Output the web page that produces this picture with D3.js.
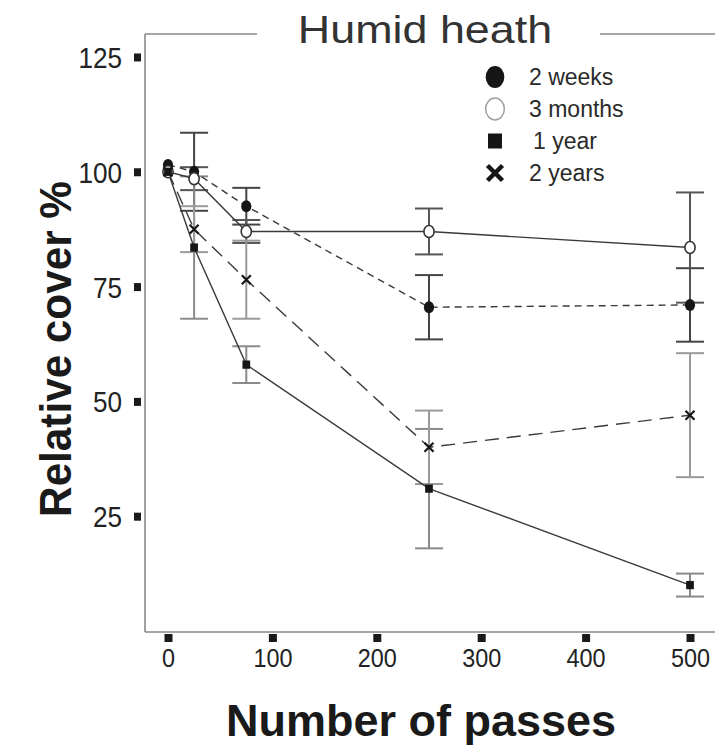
<!DOCTYPE html>
<html><head><meta charset="utf-8">
<script src="https://cdn.jsdelivr.net/npm/d3@7"></script>
<style>body{margin:0;background:#fff}svg{display:block}</style>
</head><body>
<svg id="chart" width="715" height="746"></svg>
<script>
// ---- data ----
const passes = [0, 25, 75, 250, 500];
const seriesNames = ["2 weeks", "3 months", "1 year", "2 years"];
const cover2w = [101.5, 100, 92.5, 70.5, 71];
const err2w   = [0, 8.5, 4, 7, 8];
const cover3m = [100, 98.5, 87, 87, 83.5];
const err3m   = [0, 2.5, 2.5, 5, 12];
const cover1y = [100, 83.5, 58, 31, 10];
const err1y   = [0, 15.5, 4, 13, 2.5];
const cover2y = [100, 87.5, 76.5, 40, 47];
const err2y   = [0, 5, 8.5, 8, 13.5];
const xTicks = [0, 100, 200, 300, 400, 500];
const yTicks = [25, 50, 75, 100, 125];
const chartTitle = "Humid heath";
const xTitle = "Number of passes";
const yTitle = "Relative cover %";

const FONT = "'Liberation Sans', Arial, Helvetica, sans-serif";
const svg = d3.select("#chart");

const x = d3.scaleLinear().domain([0, 500]).range([168, 690]);
const y = d3.scaleLinear().domain([0, 130]).range([631, 34]);

const series = [
  {name: seriesNames[0], vals: cover2w, errs: err2w, marker: "dot",    dash: "7,5",  bar: "#444"},
  {name: seriesNames[1], vals: cover3m, errs: err3m, marker: "circle", dash: null,   bar: "#555"},
  {name: seriesNames[2], vals: cover1y, errs: err1y, marker: "square", dash: null,   bar: "#8a8a8a"},
  {name: seriesNames[3], vals: cover2y, errs: err2y, marker: "cross",  dash: "14,8", bar: "#9a9a9a"}
];

function squeeze(sel, factor) {
  sel.each(function() {
    const w = this.getComputedTextLength();
    d3.select(this).attr("textLength", w * factor).attr("lengthAdjust", "spacingAndGlyphs");
  });
}

// ---- frame ----
const frame = svg.append("g").attr("stroke", "#8a8a8a").attr("stroke-width", 1.6).attr("fill", "none");
frame.append("line").attr("x1", 145).attr("x2", 145).attr("y1", y.range()[1]).attr("y2", 632);
frame.append("line").attr("x1", 145).attr("x2", 715).attr("y1", 632).attr("y2", 632);
frame.append("line").attr("x1", 145).attr("x2", 257).attr("y1", y.range()[1]).attr("y2", y.range()[1]);
frame.append("line").attr("x1", 600).attr("x2", 715).attr("y1", y.range()[1]).attr("y2", y.range()[1]);

// ---- axes ----
const yAxis = svg.append("g").attr("transform", "translate(145,0)")
  .call(d3.axisLeft(y).tickValues(yTicks).tickSize(0).tickPadding(23));
yAxis.select(".domain").remove();
yAxis.selectAll(".tick").append("rect").attr("x", -11).attr("y", -4).attr("width", 7).attr("height", 8).attr("fill", "#1a1a1a");
yAxis.selectAll(".tick text").attr("font-family", FONT).attr("font-size", 29).attr("fill", "#222").attr("dy", "0.36em")
  .call(squeeze, 0.9);

const xAxis = svg.append("g").attr("transform", "translate(0,632)")
  .call(d3.axisBottom(x).tickValues(xTicks).tickSize(0).tickPadding(17));
xAxis.select(".domain").remove();
xAxis.selectAll(".tick").append("rect").attr("x", -4).attr("y", 2).attr("width", 8).attr("height", 8).attr("fill", "#1a1a1a");
xAxis.selectAll(".tick text").attr("font-family", FONT).attr("font-size", 26).attr("fill", "#222").attr("dy", "0.71em")
  .call(squeeze, 0.9);

// ---- titles ----
svg.append("text").attr("x", 425).attr("y", 43).attr("text-anchor", "middle")
  .attr("font-family", FONT).attr("font-size", 39).attr("fill", "#333").text(chartTitle)
  .call(squeeze, 1.15);

svg.append("text").attr("x", 421).attr("y", 736).attr("text-anchor", "middle")
  .attr("font-family", FONT).attr("font-size", 45).attr("font-weight", "bold").attr("fill", "#1a1a1a").text(xTitle)
  .call(squeeze, 1.0);

svg.append("text").attr("transform", "translate(71,349) rotate(-90)").attr("text-anchor", "middle")
  .attr("font-family", FONT).attr("font-size", 44).attr("font-weight", "bold").attr("fill", "#1a1a1a").text(yTitle)
  .call(squeeze, 0.96);

// ---- error bars ----
const capW = 14;
series.forEach(s => {
  const g = svg.append("g").attr("stroke", s.bar).attr("stroke-width", 2).attr("fill", "none");
  passes.forEach((p, i) => {
    const e = s.errs[i];
    if (!e) return;
    const cx = x(p), y1 = y(s.vals[i] + e), y2 = y(s.vals[i] - e);
    g.append("line").attr("x1", cx).attr("x2", cx).attr("y1", y1).attr("y2", y2);
    g.append("line").attr("x1", cx - capW).attr("x2", cx + capW).attr("y1", y1).attr("y2", y1);
    g.append("line").attr("x1", cx - capW).attr("x2", cx + capW).attr("y1", y2).attr("y2", y2);
  });
});

// ---- lines ----
const line = d3.line().x(d => x(d[0])).y(d => y(d[1]));
series.forEach(s => {
  svg.append("path").datum(passes.map((p, i) => [p, s.vals[i]]))
    .attr("d", line).attr("fill", "none").attr("stroke", "#3a3a3a").attr("stroke-width", 1.4)
    .attr("stroke-dasharray", s.dash);
});

// ---- markers ----
function drawMarker(g, type, cx, cy, size, legend) {
  if (type === "dot") {
    g.append("ellipse").attr("cx", cx).attr("cy", cy).attr("rx", size * 0.85).attr("ry", size).attr("fill", "#161616");
  } else if (type === "circle") {
    g.append("ellipse").attr("cx", cx).attr("cy", cy).attr("rx", size * 0.85).attr("ry", size)
      .attr("fill", "#fff").attr("stroke", legend ? "#a0a0a0" : "#333").attr("stroke-width", legend ? 1.5 : 1.6);
  } else if (type === "square") {
    g.append("rect").attr("x", cx - size * 0.7).attr("y", cy - size * 0.75).attr("width", size * 1.4).attr("height", size * 1.5).attr("fill", "#161616");
  } else {
    const a = size * 0.75;
    g.append("path").attr("d", `M${cx - a},${cy - a}L${cx + a},${cy + a}M${cx - a},${cy + a}L${cx + a},${cy - a}`)
      .attr("stroke", "#161616").attr("stroke-width", legend ? 4.5 : 2.2).attr("fill", "none");
  }
}
series.forEach(s => {
  const g = svg.append("g");
  passes.forEach((p, i) => drawMarker(g, s.marker, x(p), y(s.vals[i]), s.marker === "square" ? 5.5 : 6, false));
});

// ---- legend ----
const legendY = d3.scalePoint().domain(seriesNames).range([77, 173]);
const lg = svg.append("g");
series.forEach(s => {
  const ly = legendY(s.name);
  drawMarker(lg, s.marker, 495, ly, s.marker === "square" ? 10 : (s.marker === "cross" ? 10 : 11), true);
  lg.append("text").attr("x", s.marker === "square" ? 533 : 529).attr("y", ly).attr("dy", "0.36em")
    .attr("font-family", FONT).attr("font-size", 23).attr("fill", "#2a2a2a").text(s.name);
});
</script>
</body></html>
